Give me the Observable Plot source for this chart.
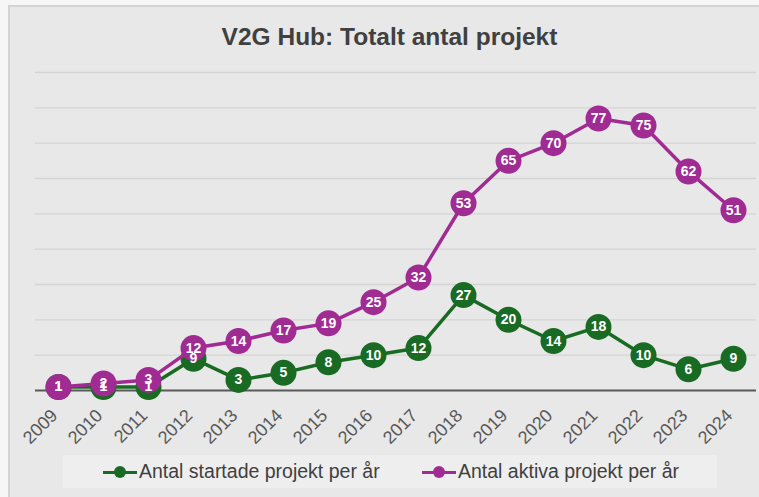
<!DOCTYPE html>
<html>
<head>
<meta charset="utf-8">
<script src="https://cdn.jsdelivr.net/npm/d3@7"></script>
<script src="https://cdn.jsdelivr.net/npm/@observablehq/plot@0.6"></script>
<style>
  html, body { margin: 0; padding: 0; background: #ffffff; }
  #wrap { position: relative; width: 759px; height: 497px; overflow: hidden; background: #f6f6f6; }
  #frame { position: absolute; left: 8px; top: 5px; width: 751px; height: 492px; background: #e8e8e8;
           border-left: 2px solid #d3d3d3; border-top: 2px solid #d3d3d3; box-sizing: border-box; }
  #title { position: absolute; left: 0; width: 779px; top: 22px; text-align: center;
           font-family: "Liberation Sans", sans-serif; font-weight: bold;
           font-size: 24.5px; color: #404040; line-height: 30px; }
  #chart { position: absolute; left: 0; top: 0; }
  #legend { position: absolute; left: 63px; top: 455px; width: 654px; height: 33px; background: #eeeeee;
            font-family: "Liberation Sans", sans-serif; font-size: 19.5px; color: #404040; }
  .item { position: absolute; top: 0; height: 33px; display: flex; align-items: center; white-space: nowrap; }
  .sw { position: relative; width: 34px; height: 14px; margin-right: 2px; }
  .sw .ln { position: absolute; left: 0; right: 0; top: 6px; height: 3px; }
  .sw .dt { position: absolute; left: 11px; top: 1px; width: 12px; height: 12px; border-radius: 50%; }
</style>
</head>
<body>
<div id="wrap">
  <div id="frame"></div>
  <div id="title">V2G Hub: Totalt antal projekt</div>
  <div id="chart"></div>
  <div id="legend"></div>
</div>
<script>
const years = ["2009","2010","2011","2012","2013","2014","2015","2016","2017","2018","2019","2020","2021","2022","2023","2024"];
const startade = [1, 1, 1, 9, 3, 5, 8, 10, 12, 27, 20, 14, 18, 10, 6, 9];
const aktiva   = [1, 2, 3, 12, 14, 17, 19, 25, 32, 53, 65, 70, 77, 75, 62, 51];
const seriesNames = ["Antal startade projekt per år", "Antal aktiva projekt per år"];
const seriesColors = ["#196B24", "#A02B93"];
const gridValues = [10, 20, 30, 40, 50, 60, 70, 80, 90];

const green = years.map((y, i) => ({year: y, value: startade[i]}));
const purple = years.map((y, i) => ({year: y, value: aktiva[i]}));

const labelFont = "Liberation Sans, sans-serif";

const chart = Plot.plot({
  width: 759,
  height: 450,
  marginLeft: 35,
  marginRight: 3,
  marginTop: 72,
  marginBottom: 60,
  style: { background: "transparent", fontFamily: labelFont, overflow: "visible" },
  x: { type: "point", domain: years, padding: 0.5, label: null },
  y: { domain: [0, 90], axis: null },
  marks: [
    Plot.ruleY(gridValues, { stroke: "#d4d4d4", strokeWidth: 1.3 }),
    Plot.ruleY([0], { stroke: "#595959", strokeWidth: 2 }),
    Plot.axisX({ tickRotate: -45, tickSize: 0, tickPadding: 22, dx: -4, fontSize: 18, fill: "#595959", color: "#595959", label: null }),
    Plot.line(green, { x: "year", y: "value", stroke: seriesColors[0], strokeWidth: 3.5 }),
    Plot.dot(green, { x: "year", y: "value", r: 13, fill: seriesColors[0], stroke: null }),
    Plot.line(purple, { x: "year", y: "value", stroke: seriesColors[1], strokeWidth: 3.5 }),
    Plot.dot(purple, { x: "year", y: "value", r: 13, fill: seriesColors[1], stroke: null }),
    Plot.text(green, { x: "year", y: "value", text: d => String(d.value), fill: "white", fontWeight: "bold", fontSize: 14, fontFamily: labelFont }),
    Plot.text(purple, { x: "year", y: "value", text: d => String(d.value), fill: "white", fontWeight: "bold", fontSize: 14, fontFamily: labelFont })
  ]
});
document.getElementById("chart").appendChild(chart);

const legend = document.getElementById("legend");
const lefts = [40, 359];
seriesNames.forEach((name, i) => {
  const item = document.createElement("div");
  item.className = "item";
  item.style.left = lefts[i] + "px";
  item.innerHTML = `<div class="sw"><div class="ln" style="background:${seriesColors[i]}"></div><div class="dt" style="background:${seriesColors[i]}"></div></div><span>${name}</span>`;
  legend.appendChild(item);
});
</script>
</body>
</html>
